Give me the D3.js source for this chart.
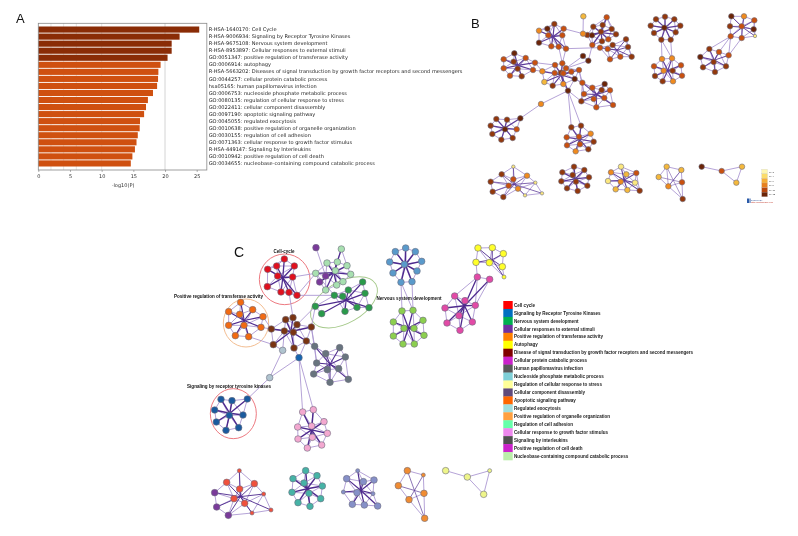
<!DOCTYPE html>
<html>
<head>
<meta charset="utf-8">
<script src="https://cdn.jsdelivr.net/npm/d3@7"></script>
<style>
html, body { margin: 0; padding: 0; background: #fff; }
svg { display: block; filter: blur(0.35px); }
</style>
</head>
<body>
<div id="chart"></div>
<script>
"use strict";

// panel A
const barLabels = [
    "R-HSA-1640170: Cell Cycle",
    "R-HSA-9006934: Signaling by Receptor Tyrosine Kinases",
    "R-HSA-9675108: Nervous system development",
    "R-HSA-8953897: Cellular responses to external stimuli",
    "GO:0051347: positive regulation of transferase activity",
    "GO:0006914: autophagy",
    "R-HSA-5663202: Diseases of signal transduction by growth factor receptors and second messengers",
    "GO:0044257: cellular protein catabolic process",
    "hsa05165: human papillomavirus infection",
    "GO:0006753: nucleoside phosphate metabolic process",
    "GO:0080135: regulation of cellular response to stress",
    "GO:0022411: cellular component disassembly",
    "GO:0097190: apoptotic signaling pathway",
    "GO:0045055: regulated exocytosis",
    "GO:0010638: positive regulation of organelle organization",
    "GO:0030155: regulation of cell adhesion",
    "GO:0071363: cellular response to growth factor stimulus",
    "R-HSA-449147: Signaling by Interleukins",
    "GO:0010942: positive regulation of cell death",
    "GO:0034655: nucleobase-containing compound catabolic process"
];
const barValues = [25.4, 22.3, 21.05, 21.05, 20.4, 19.3, 18.95, 18.9, 18.75, 18.1,
    17.3, 17.0, 16.7, 16.05, 16.0, 15.7, 15.5, 15.25, 14.85, 14.6];
const barBands = [0, 0, 0, 0, 0, 1, 1, 1, 1, 1, 1, 1, 1, 1, 1, 1, 1, 1, 1, 1];
const barColors = ["#8a2c06", "#cf5010"];
const xTicks = [0, 5, 10, 15, 20, 25];
const gridValues = [2, 4, 6, 10, 20];

// panel C legend
const legendLabels = [
    "Cell cycle",
    "Signaling by Receptor Tyrosine Kinases",
    "Nervous system development",
    "Cellular responses to external stimuli",
    "Positive regulation of transferase activity",
    "Autophagy",
    "Disease of signal transduction by growth factor receptors and second messengers",
    "Cellular protein catabolic process",
    "Human papillomavirus infection",
    "Nucleoside phosphate metabolic process",
    "Regulation of cellular response to stress",
    "Cellular component disassembly",
    "Apoptotic signaling pathway",
    "Regulated exocytosis",
    "Positive regulation of organelle organization",
    "Regulation of cell adhesion",
    "Cellular response to growth factor stimulus",
    "Signaling by interleukins",
    "Positive regulation of cell death",
    "Nucleobase-containing compound catabolic process"
];
const legendColors = ["#ff0000", "#0070c0", "#00b050", "#7030a0", "#ff8000", "#ffff00", "#800000",
    "#cc22cc", "#595959", "#7fd0d8", "#ffff99", "#604a7b", "#ff6600", "#a0dede", "#ffa040",
    "#66ffaa", "#ee88ee", "#505050", "#cc22cc", "#bbeeaa"];

// network colours: P value bands (B) and clusters (C)
const bandColors = ["#6b2407", "#93380c", "#c9500f", "#ef8a1e", "#f4b83c", "#fbe77e"];
const bandScale = ["#fdf6b0", "#fbdc6a", "#f6ad35", "#e8801c", "#b8460d", "#6b2407"];
const bandLabels = ["1e-2", "1e-4", "1e-6", "1e-8", "1e-10", "1e-12"];
const clusterColors = ["#e0101e", "#1a5a9e", "#2a9a4a", "#7a3a9a", "#f26a12", "#ffff2a", "#7a3412",
    "#e24aa6", "#68747e", "#b0c4cf", "#a8e0b0", "#5a9acb", "#8ccf4f", "#f3a8d0", "#f0503c",
    "#46b3a6", "#8690c8", "#f08c32", "#eef58a", "#1565b0"];

// nodes: [layout x, layout y, colour index, small?]
const bTopLeft = [[253,57,1],[207,77,3],[232,71,0],[281,71,2],[235,91,2],[277,91,2],[207,113,0],[244,124,2],[266,125,2],[288,131,2]];
const bTopA = [[410,37,2],[370,65,1],[398,60,1],[425,72,1],[352,90,1],[366,91,0],[393,80,1],[438,88,1],[415,103,2],[396,109,1],[367,120,2]];
const bTopB = [[390,128,2],[413,132,2],[428,120,1],[468,103,1],[474,126,1],[485,155,1],[451,155,2],[420,163,2]];
const bStray = [[340,34,4],[339,86,3],[339,153,0],[355,167,0],[213,297,3]];
const bLeft = [[133,145,0],[101,163,2],[167,159,2],[131,170,1],[195,173,2],[101,190,2],[143,191,1],[189,195,2],[120,212,2],[155,214,1]];
const bCenter = [[277,175,2],[255,180,2],[288,190,2],[273,203,1],[254,204,2],[217,199,3],[280,205,2],[223,231,4],[304,200,2],[314,222,0],[327,195,2],[248,242,1],[280,237,3],[294,257,0]];
const bRight = [[337,233,2],[404,237,0],[367,248,2],[420,256,2],[342,267,2],[395,255,1],[334,289,1],[371,282,2],[403,279,2],[379,307,2],[429,300,2]];
const bLowLeft = [[151,340,0],[79,342,1],[111,344,1],[62,362,1],[105,373,0],[140,373,2],[67,387,1],[94,404,1],[128,399,1]];
const bBottom = [[304,367,1],[333,362,1],[362,386,3],[290,397,2],[327,395,2],[371,410,1],[291,421,2],[330,418,2],[355,433,1],[317,439,3]];
const bMidUp = [[585,35,1],[558,43,1],[613,43,1],[542,62,1],[631,62,1],[583,68,0],[552,84,1],[617,82,1],[574,104,1],[602,104,1]];
const bMidDown = [[576,162,3],[606,160,3],[552,184,2],[633,181,2],[581,197,3],[608,197,1],[555,213,1],[636,212,2],[578,229,1],[609,229,3]];
const bFarUp = [[784,34,0],[822,34,3],[853,46,2],[780,64,1],[815,64,2],[851,73,0],[782,94,2],[815,99,2],[855,93,5,1]];
const bFarDown = [[718,132,1],[747,141,2],[691,156,0],[776,151,2],[731,171,1],[699,187,1],[768,184,1],[735,201,1]];
const bRow1 = [[130,50,5,1],[95,73,1],[171,77,3],[62,95,1],[130,88,2],[116,107,2],[196,98,5,1],[68,125,1],[144,116,3],[165,136,5,1],[100,141,1],[216,130,5,1]];
const bRow2 = [[312,50,1],[277,67,1],[343,60,1],[308,75,1],[357,82,1],[274,94,1],[318,95,1],[352,107,1],[291,115,1],[323,123,1]];
const bRow3 = [[453,50,5],[423,67,3],[469,73,4],[499,69,2],[414,93,5],[452,95,3],[495,98,5],[437,118,4],[472,120,4],[509,122,1]];
const bRow4 = [[590,50,4],[634,60,4],[566,81,4],[636,97,2],[595,109,3],[638,147,1]];
const bRow5 = [[695,50,0],[755,63,2],[816,50,4],[799,98,4]];

const cCellCycle = [[343,72,0],[293,103,0],[320,93,0],[373,93,0],[323,123,0],[368,126,0],[292,155,0],[333,171,0],[357,172,0],[381,181,0]];
const cExternal = [[514,42,10],[471,84,10],[502,81,10],[531,92,10],[496,107,10],[542,118,10],[437,115,10],[519,140,10],[500,150,10],[467,165,10],[467,123,3],[449,141,3]];
const cGreen = [[578,141,2],[535,165,2],[493,181,2],[518,184,2],[585,175,2],[436,214,2],[455,236,2],[525,229,2],[561,217,2],[597,218,2]];
const cOrange = [[212,202,4],[176,230,4],[248,224,4],[209,238,4],[279,245,4],[222,271,4],[176,271,4],[273,277,4],[196,302,4],[236,305,4]];
const cBrown = [[369,248,6],[347,254,6],[381,269,6],[304,282,6],[343,288,6],[370,292,6],[424,276,6],[409,318,6],[310,329,6],[372,339,6]];
const cStray = [[438,38,3],[338,346,9],[299,428,9],[387,368,19]];
const cGray = [[434,334,8],[509,338,8],[467,356,8],[526,366,8],[440,384,8],[506,401,8],[472,404,8],[431,417,8],[535,433,8],[480,442,8]];
const cBlue = [[107,39,11],[76,50,11],[136,50,11],[59,81,11],[155,79,11],[103,88,11],[69,114,11],[141,108,11],[93,142,11],[126,140,11]];
const cLime = [[96,228,12],[129,226,12],[70,261,12],[159,256,12],[102,280,12],[132,280,12],[70,303,12],[162,301,12],[99,327,12],[133,327,12]];
const cYellow = [[324,39,5],[367,38,5],[400,56,5],[318,82,5],[358,83,5],[397,95,5],[402,126,5,1]];
const cMagenta = [[322,126,7],[359,133,7],[254,183,7],[285,197,7],[225,219,7],[316,211,7],[267,242,7],[231,264,7],[307,261,7],[270,286,7]];
const cNavy = [[153,88,1],[186,92,1],[232,87,1],[134,120,1],[178,136,1],[219,135,1],[139,156,1],[168,181,1],[206,173,1]];
const cPink = [[398,126,13],[430,119,13],[383,171,13],[425,168,13],[462,155,13],[472,190,13],[384,207,13],[427,202,13],[412,234,13],[455,225,13]];
const cRow1 = [[44,113,3],[50,156,3],[85,181,3],[80,82,14],[163,86,14],[119,102,14],[102,131,14],[134,145,14],[118,47,14,1],[191,117,14,1],[156,174,14,1],[213,165,14,1]];
const cRow2 = [[317,47,15],[279,71,15],[351,62,15],[312,84,15],[367,93,15],[276,112,15],[327,115,15],[362,131,15],[294,143,15],[330,154,15]];
const cRow3 = [[473,47,16,1],[440,71,16],[490,80,16],[522,75,16],[430,111,16,1],[471,113,16],[519,116,16,1],[457,148,16],[493,150,16],[533,153,16]];
const cRow4 = [[622,47,17],[670,60,17,1],[595,92,17],[672,115,17],[627,134,17],[674,190,17]];
const cRow5 = [[737,47,18],[802,66,18],[869,47,18,1],[851,118,18]];

// links between groups: [group, node, group, node]
const bLinks = [
    ["stray",0,"stray",1],["stray",1,"topA",4],["stray",1,"topLeft",3],["topLeft",9,"center",0],["topLeft",8,"center",0],
    ["topLeft",9,"topB",0],["stray",2,"center",2],["stray",3,"center",2],["stray",3,"topA",10],["stray",2,"stray",3],
    ["left",4,"center",1],["left",7,"center",5],["left",4,"center",5],["center",13,"stray",4],["stray",4,"lowLeft",0],
    ["center",13,"bottom",0],["center",13,"bottom",1],["center",9,"right",0],["center",10,"right",4],["center",13,"right",6],
    ["center",9,"right",2],["center",10,"right",0],["midUp",8,"midDown",0],["midUp",9,"midDown",1],["midUp",8,"midDown",1],
    ["farUp",6,"farDown",1],["farUp",6,"farDown",0],["farUp",7,"farDown",3],["farUp",6,"farDown",3]
];
const cLinks = [
    ["cell",8,"brown",0],["cell",9,"green",2],["cell",5,"ext",6],["cell",9,"ext",6],["stray",0,"ext",10],
    ["brown",6,"green",5],["brown",2,"green",5],["brown",3,"orange",7],["brown",8,"orange",9],["brown",3,"orange",4],
    ["brown",6,"gray",0],["brown",7,"gray",0],["brown",6,"gray",4],["brown",7,"gray",2],["brown",7,"stray",3],["brown",9,"stray",3],
    ["brown",4,"stray",1],["brown",8,"stray",1],["stray",1,"stray",2],["stray",3,"stray",2],["stray",2,"navy",2],
    ["stray",3,"pink",1],["stray",3,"pink",0],["blue",8,"lime",0],["blue",9,"lime",1],["blue",8,"lime",1],
    ["yellow",3,"magenta",0],["magenta",0,"magenta",5],["magenta",1,"magenta",5],["magenta",0,"magenta",2],["ext",6,"green",2]
];

// ellipses round the annotated clusters of C
const rings = [
    { frame: "c1", cx: 344, cy: 133, rx: 76, ry: 76, angle: 0, color: "#ea6a72" },
    { frame: "c1", cx: 228, cy: 264, rx: 68, ry: 72, angle: 0, color: "#f0b585" },
    { frame: "c1", cx: 522, cy: 202, rx: 110, ry: 62, angle: -30, color: "#a5c98a" },
    { frame: "c3", cx: 190, cy: 131, rx: 69, ry: 75, angle: 0, color: "#ea6a72" }
];

const cLabels = [
    { text: "Cell-cycle", x: 284, y: 253, width: 21 },
    { text: "Positive regulation of transferase activity", x: 218.5, y: 297.5, width: 89 },
    { text: "Signaling by receptor tyrosine kinases", x: 229, y: 387.5, width: 84 },
    { text: "Nervous system development", x: 409, y: 299.5, width: 65 }
];

const width = 798, height = 536;
const svg = d3.select("#chart").append("svg").attr("width", width).attr("height", height);
const sans = "'Liberation Sans', Arial, sans-serif";

// panel letters
svg.selectAll(".letter").data([["A",16,23,13],["B",471,28,13],["C",234,257,14]]).enter().append("text")
    .attr("x", d => d[1]).attr("y", d => d[2]).attr("font-family", sans).attr("font-size", d => d[3])
    .attr("fill", "#111").text(d => d[0]);

// ---- A: bar chart
const x = d3.scaleLinear().domain([0, 25]).range([38.3, 196.7]);
const y = d3.scaleBand().domain(barLabels).range([26.5, 166.5]).paddingInner(0.13);
const frameRight = x(26.6), frameTop = 23.3, frameBottom = 170;

svg.append("g").selectAll("line").data(gridValues).enter().append("line")
    .attr("x1", d => x(d)).attr("x2", d => x(d)).attr("y1", frameTop).attr("y2", frameBottom)
    .attr("stroke", "#d4d4d4").attr("stroke-width", d => d === 20 ? 1 : 0.6);

svg.append("g").selectAll("rect").data(barValues).enter().append("rect")
    .attr("x", x(0)).attr("y", (d, i) => y(barLabels[i]))
    .attr("width", d => x(d) - x(0)).attr("height", y.bandwidth())
    .attr("fill", (d, i) => barColors[barBands[i]]);

svg.append("rect").attr("x", x(0)).attr("y", frameTop).attr("width", frameRight - x(0))
    .attr("height", frameBottom - frameTop).attr("fill", "none").attr("stroke", "#888").attr("stroke-width", 0.8);

const xAxis = svg.append("g").attr("transform", `translate(0,${frameBottom})`)
    .call(d3.axisBottom(x).tickValues(xTicks).tickSize(2).tickPadding(2));
xAxis.select(".domain").remove();
xAxis.selectAll("line").attr("stroke", "#666").attr("stroke-width", 0.5);
xAxis.selectAll("text").attr("font-family", "'DejaVu Sans'").attr("font-size", 5).attr("fill", "#333");

svg.append("text").attr("x", 123).attr("y", 187).attr("text-anchor", "middle")
    .attr("font-family", "'DejaVu Sans'").attr("font-size", 5).attr("fill", "#333").text("-log10(P)");

const yAxis = svg.append("g").attr("transform", `translate(${frameRight},0)`)
    .call(d3.axisRight(y).tickSize(0).tickPadding(1.8));
yAxis.select(".domain").remove();
yAxis.selectAll("text").attr("font-family", "'DejaVu Sans'").attr("font-size", 5.05).attr("fill", "#222");

// ---- networks
const frames = {
    b: [470, 5], bRow: [470, 150],
    c1: [170, 235], c2: [370, 235], c3: [170, 370], c4: [200, 455]
};
const layoutX = f => d3.scaleLinear().domain([0, 3]).range([frames[f][0], frames[f][0] + 1]);
const layoutY = f => d3.scaleLinear().domain([0, 3]).range([frames[f][1], frames[f][1] + 1]);

function drawNetwork(groups, links, colors, radius, small, spokeColor) {
    const g = svg.append("g");
    const byName = {};
    groups.forEach(gr => {
        const sx = layoutX(gr.frame), sy = layoutY(gr.frame);
        gr.points = gr.nodes.map(n => ({ x: sx(n[0]), y: sy(n[1]), c: n[2], small: n[3] }));
        byName[gr.name] = gr.points;
    });

    let light = [], dark = [];
    groups.forEach(gr => {
        const pts = gr.points;
        if (gr.mesh) {
            const del = d3.Delaunay.from(pts, p => p.x, p => p.y);
            const tri = del.triangles;
            for (let e = 0; e < tri.length; e++) {
                const next = e % 3 === 2 ? e - 2 : e + 1;
                if (del.halfedges[e] > e || del.halfedges[e] < 0) {
                    const a = pts[tri[e]], b = pts[tri[next]];
                    if (Math.hypot(a.x - b.x, a.y - b.y) < gr.mesh) light.push([a, b]);
                }
            }
        }
        if (gr.spoke) {
            const hub = { x: d3.mean(pts, p => p.x), y: d3.mean(pts, p => p.y) };
            pts.forEach(p => dark.push([hub, p, gr.spoke]));
        }
    });
    links.forEach(l => light.push([byName[l[0]][l[1]], byName[l[2]][l[3]]]));

    g.append("g").selectAll("line").data(light).enter().append("line")
        .attr("x1", d => d[0].x).attr("y1", d => d[0].y).attr("x2", d => d[1].x).attr("y2", d => d[1].y)
        .attr("stroke", "#ad98d2").attr("stroke-width", 0.9);
    g.append("g").selectAll("line").data(dark).enter().append("line")
        .attr("x1", d => d[0].x).attr("y1", d => d[0].y).attr("x2", d => d[1].x).attr("y2", d => d[1].y)
        .attr("stroke", spokeColor).attr("stroke-width", d => d[2] * 1.3);

    const all = groups.flatMap(gr => gr.points);
    g.append("g").selectAll("circle").data(all).enter().append("circle")
        .attr("cx", d => d.x).attr("cy", d => d.y)
        .attr("r", d => d.small ? small : radius)
        .attr("fill", d => colors[d.c]).attr("stroke", "#6f6f80").attr("stroke-width", 0.6);
}

drawNetwork([
    { name: "topLeft", nodes: bTopLeft, frame: "b", spoke: 0.9, mesh: 20 },
    { name: "topA", nodes: bTopA, frame: "b", spoke: 1, mesh: 20 },
    { name: "topB", nodes: bTopB, frame: "b", spoke: 0.7, mesh: 20 },
    { name: "stray", nodes: bStray, frame: "b" },
    { name: "left", nodes: bLeft, frame: "b", spoke: 0.9, mesh: 20 },
    { name: "center", nodes: bCenter, frame: "b", spoke: 0.9, mesh: 16 },
    { name: "right", nodes: bRight, frame: "b", spoke: 0.8, mesh: 20 },
    { name: "lowLeft", nodes: bLowLeft, frame: "b", spoke: 0.9, mesh: 20 },
    { name: "bottom", nodes: bBottom, frame: "b", spoke: 0.9, mesh: 20 },
    { name: "midUp", nodes: bMidUp, frame: "b", spoke: 0.9, mesh: 20 },
    { name: "midDown", nodes: bMidDown, frame: "b", spoke: 0.9, mesh: 20 },
    { name: "farUp", nodes: bFarUp, frame: "b", spoke: 0.7, mesh: 20 },
    { name: "farDown", nodes: bFarDown, frame: "b", spoke: 0.8, mesh: 20 },
    { name: "row1", nodes: bRow1, frame: "bRow", spoke: 0.6, mesh: 21 },
    { name: "row2", nodes: bRow2, frame: "bRow", spoke: 1, mesh: 20 },
    { name: "row3", nodes: bRow3, frame: "bRow", spoke: 0.8, mesh: 20 },
    { name: "row4", nodes: bRow4, frame: "bRow", spoke: 0.4, mesh: 22 },
    { name: "row5", nodes: bRow5, frame: "bRow", mesh: 24 }
], bLinks, bandColors, 2.75, 1.7, "#5e3c99");

// ellipses sit behind the nodes of C
svg.append("g").selectAll("ellipse").data(rings).enter().append("ellipse")
    .attr("cx", d => layoutX(d.frame)(d.cx)).attr("cy", d => layoutY(d.frame)(d.cy))
    .attr("rx", d => d.rx / 3).attr("ry", d => d.ry / 3)
    .attr("transform", d => `rotate(${d.angle} ${layoutX(d.frame)(d.cx)} ${layoutY(d.frame)(d.cy)})`)
    .attr("fill", "none").attr("stroke", d => d.color).attr("stroke-width", 0.9);

drawNetwork([
    { name: "cell", nodes: cCellCycle, frame: "c1", spoke: 1, mesh: 22 },
    { name: "ext", nodes: cExternal, frame: "c1", spoke: 1, mesh: 20 },
    { name: "green", nodes: cGreen, frame: "c1", spoke: 0.9, mesh: 22 },
    { name: "orange", nodes: cOrange, frame: "c1", spoke: 0.9, mesh: 22 },
    { name: "brown", nodes: cBrown, frame: "c1", spoke: 1, mesh: 20 },
    { name: "stray", nodes: cStray, frame: "c1" },
    { name: "gray", nodes: cGray, frame: "c1", spoke: 0.8, mesh: 24 },
    { name: "blue", nodes: cBlue, frame: "c2", spoke: 1.1, mesh: 20 },
    { name: "lime", nodes: cLime, frame: "c2", spoke: 1, mesh: 20 },
    { name: "yellow", nodes: cYellow, frame: "c2", spoke: 0.7, mesh: 22 },
    { name: "magenta", nodes: cMagenta, frame: "c2", spoke: 1, mesh: 22 },
    { name: "navy", nodes: cNavy, frame: "c3", spoke: 1.1, mesh: 22 },
    { name: "pink", nodes: cPink, frame: "c3", spoke: 1.1, mesh: 20 },
    { name: "row1", nodes: cRow1, frame: "c4", spoke: 0.7, mesh: 24 },
    { name: "row2", nodes: cRow2, frame: "c4", spoke: 1.1, mesh: 20 },
    { name: "row3", nodes: cRow3, frame: "c4", spoke: 0.9, mesh: 20 },
    { name: "row4", nodes: cRow4, frame: "c4", spoke: 0.5, mesh: 26 },
    { name: "row5", nodes: cRow5, frame: "c4", mesh: 28 }
], cLinks, clusterColors, 3.3, 2, "#4e2a8e");

// labels of C
svg.append("g").selectAll("text").data(cLabels).enter().append("text")
    .attr("x", d => d.x).attr("y", d => d.y).attr("text-anchor", "middle")
    .attr("textLength", d => d.width).attr("lengthAdjust", "spacingAndGlyphs")
    .attr("font-family", sans).attr("font-weight", "bold").attr("font-size", 5.2).attr("fill", "#111")
    .text(d => d.text);

// legend of C
const legendY = d3.scaleBand().domain(legendLabels).range([301, 460]);
const legend = svg.append("g");
legend.selectAll("rect").data(legendLabels).enter().append("rect")
    .attr("x", 503.3).attr("y", d => legendY(d)).attr("width", 9.4).attr("height", legendY.bandwidth() + 0.3)
    .attr("fill", (d, i) => legendColors[i]);
legend.selectAll("text").data(legendLabels).enter().append("text")
    .attr("x", 514).attr("y", d => legendY(d) + legendY.bandwidth() / 2 + 1.7)
    .attr("font-family", sans).attr("font-size", 4.55).attr("font-weight", "bold").attr("fill", "#222")
    .text(d => d);

// P value key of B
const keyY = d3.scaleBand().domain(bandScale).range([169.3, 196.7]);
const key = svg.append("g");
key.selectAll("rect").data(bandScale).enter().append("rect")
    .attr("x", 761.7).attr("y", d => keyY(d)).attr("width", 5.8).attr("height", keyY.bandwidth())
    .attr("fill", d => d).attr("stroke", "#bbb").attr("stroke-width", 0.2);
key.selectAll("text").data(bandLabels).enter().append("text")
    .attr("x", 769).attr("y", (d, i) => keyY(bandScale[i]) + 3.2)
    .attr("font-family", sans).attr("font-size", 2.4).attr("fill", "#333").text(d => d);

svg.append("text").attr("x", 751).attr("y", 201).attr("font-family", sans).attr("font-size", 2.2)
    .attr("fill", "#1a3f8a").text("powered by");
svg.append("text").attr("x", 751).attr("y", 203.2).attr("font-family", sans).attr("font-size", 2.4)
    .attr("fill", "#c0392b").text("http://metascape.org");
svg.append("path").attr("d", "M747,203 L747,198.5 L749,198.5 L749,203 Z M749.5,203 L749.5,198.5 L750.5,198.5 L750.5,203 Z")
    .attr("fill", "#2a5aa8");
</script>
</body>
</html>
